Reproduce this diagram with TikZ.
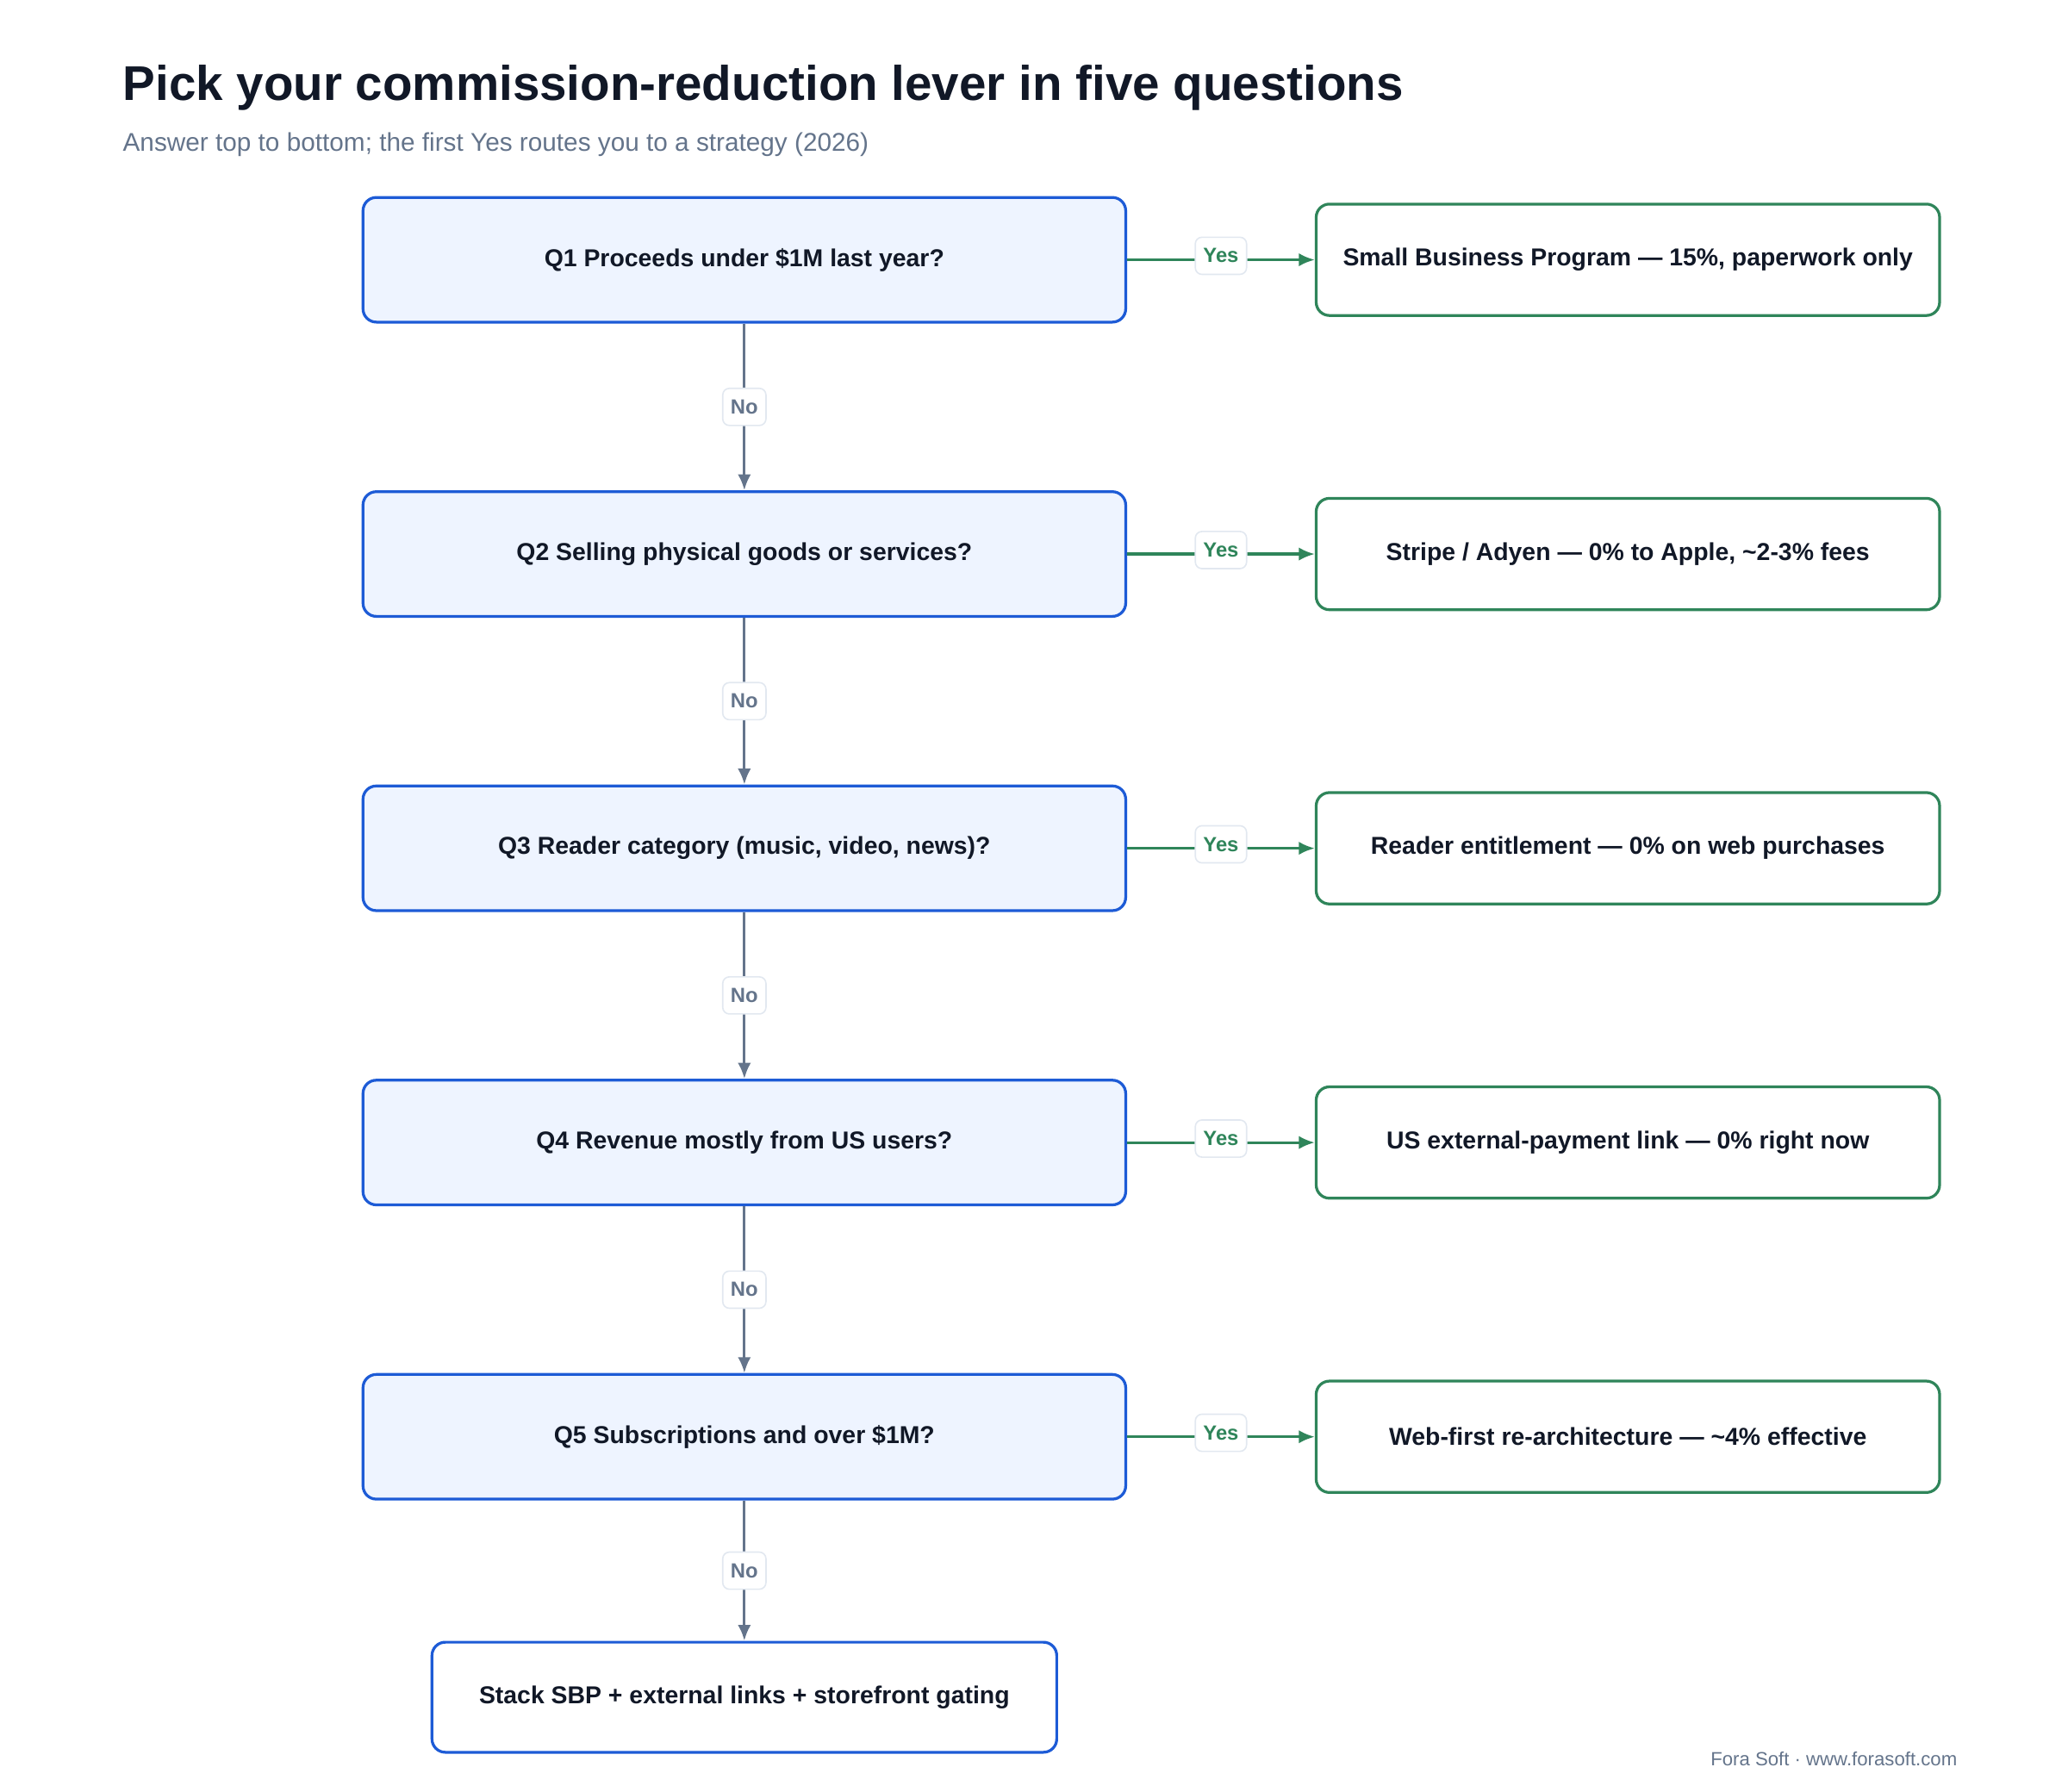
\documentclass[tikz,border=0pt]{standalone}
\usepackage{fontspec}
\setmainfont{Liberation Sans}
\usetikzlibrary{arrows.meta, positioning}
\definecolor{qblue}{HTML}{1D5BD6}
\definecolor{qfill}{HTML}{EEF4FF}
\definecolor{ygreen}{HTML}{2F855A}
\definecolor{ngray}{HTML}{64748B}
\definecolor{ink}{HTML}{111827}
\definecolor{lblline}{HTML}{E2E8F0}
\tikzset{
  question/.style={draw=qblue, fill=qfill, line width=0.6pt, rounded corners=0.1cm,
    minimum width=5.75cm, minimum height=0.94cm, font=\fontsize{5.25}{6}\selectfont\bfseries, text=ink},
  answer/.style={draw=ygreen, fill=white, line width=0.6pt, rounded corners=0.1cm,
    minimum width=4.7cm, minimum height=0.84cm, font=\fontsize{5.25}{6}\selectfont\bfseries, text=ink},
  final/.style={draw=qblue, fill=white, line width=0.6pt, rounded corners=0.1cm,
    minimum width=4.71cm, minimum height=0.83cm, font=\fontsize{5.25}{6}\selectfont\bfseries, text=ink},
  tag/.style={fill=white, draw=lblline, line width=0.3pt, rounded corners=0.05cm,
    font=\fontsize{4.4}{5}\selectfont\bfseries, inner sep=0.06cm, minimum height=0.28cm},
  yes/.style={draw=ygreen, line width=0.6pt, -{Latex[length=0.12cm,width=0.1cm]}},
  no/.style={draw=ngray, line width=0.6pt, -{Latex[length=0.12cm,width=0.1cm]}}
}
\begin{document}
\begin{tikzpicture}[x=0.01cm, y=-0.01cm]
  \useasboundingbox (0,0) rectangle (1560,1352);
  % Heading
  \node[anchor=base west, inner sep=0, text=ink, font=\fontsize{10.45}{12}\selectfont\bfseries] (title) at (92,76) {Pick your commission-reduction lever in five questions};
  \node[anchor=base west, inner sep=0, text=ngray, font=\fontsize{5.5}{7}\selectfont] (subtitle) at (92,114) {Answer top to bottom; the first Yes routes you to a strategy (2026)};
  % Questions
  \node[question] (q1) at (561.5,196) {Q1 Proceeds under \$1M last year?};
  \node[question] (q2) at (561.5,418) {Q2 Selling physical goods or services?};
  \node[question] (q3) at (561.5,640) {Q3 Reader category (music, video, news)?};
  \node[question] (q4) at (561.5,862) {Q4 Revenue mostly from US users?};
  \node[question] (q5) at (561.5,1084) {Q5 Subscriptions and over \$1M?};
  % Strategies
  \node[answer] (a1) at (1228,196) {Small Business Program — 15\%, paperwork only};
  \node[answer] (a2) at (1228,418) {Stripe / Adyen — 0\% to Apple, \textasciitilde2-3\% fees};
  \node[answer] (a3) at (1228,640) {Reader entitlement — 0\% on web purchases};
  \node[answer] (a4) at (1228,862) {US external-payment link — 0\% right now};
  \node[answer] (a5) at (1228,1084) {Web-first re-architecture — \textasciitilde4\% effective};
  \node[final] (stack) at (561.5,1280.5) {Stack SBP + external links + storefront gating};
  % Connectors
  \foreach \i in {1,...,5}
    \draw[yes] (q\i) -- node[tag, text=ygreen, yshift=0.03cm] {Yes} (a\i);
  \foreach \i/\j in {1/2,2/3,3/4,4/5}
    \draw[no] (q\i) -- node[tag, text=ngray] {No} (q\j);
  \draw[no] (q5) -- node[tag, text=ngray] {No} (stack);
  % Footer
  \node[anchor=base east, inner sep=0, text=ngray, font=\fontsize{4.1}{5}\selectfont] (credit) at (1477,1332) {Fora Soft · www.forasoft.com};
\end{tikzpicture}
\end{document}
